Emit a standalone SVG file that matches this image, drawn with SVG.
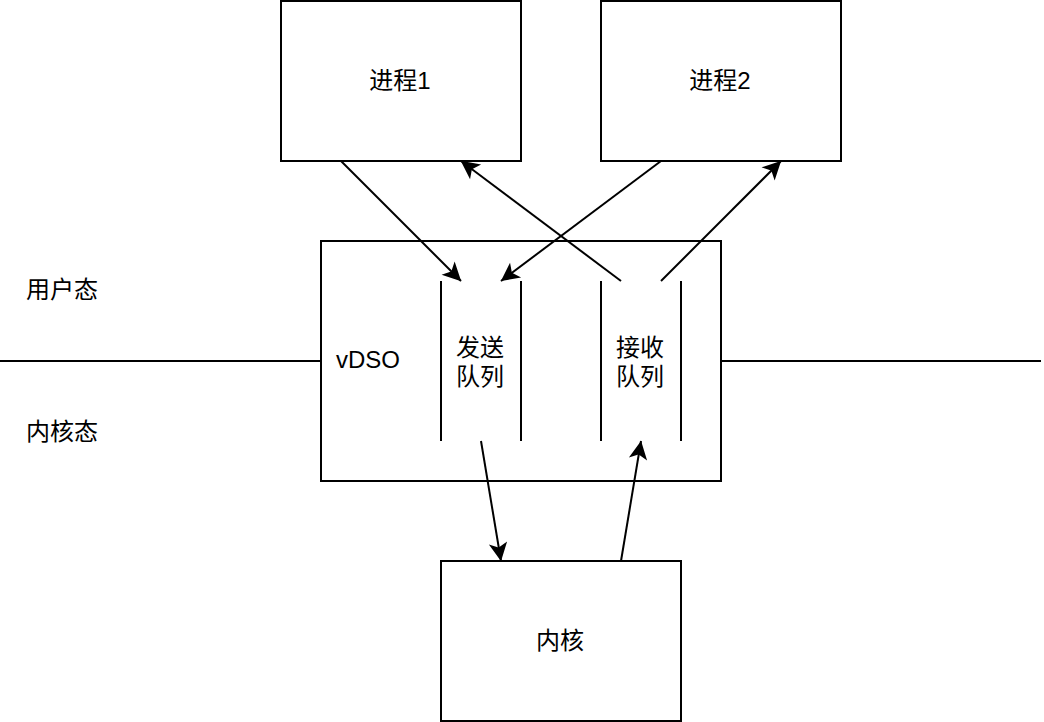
<svg xmlns="http://www.w3.org/2000/svg" width="1044" height="722" viewBox="0 0 1044 722">
  <style>
    .box { fill: #ffffff; stroke: #000000; stroke-width: 2; }
    .ln { fill: none; stroke: #000000; stroke-width: 2; }
    .arr { fill: none; stroke: #000000; stroke-width: 2; marker-end: url(#ah); }
    text { font-family: "Liberation Sans", "Noto Sans CJK SC", sans-serif; font-size: 24px; fill: #000000; }
    .c { text-anchor: middle; }
  </style>
  <defs>
    <marker id="ah" markerUnits="userSpaceOnUse" viewBox="-20 -10 22 20" refX="0" refY="0" markerWidth="22" markerHeight="20" orient="auto" overflow="visible">
      <path d="M-2,0 L-16,-7 L-12.5,0 L-16,7 Z" fill="#000000" stroke="#000000" stroke-width="2"/>
    </marker>
  </defs>
  <rect width="1044" height="722" fill="#ffffff"/>

  <g id="divider">
    <line class="ln" x1="0" y1="361" x2="321" y2="361"/>
    <line class="ln" x1="721" y1="361" x2="1041" y2="361"/>
  </g>

  <g id="label-user">
    <text class="c" x="62" y="298">用户态</text>
  </g>
  <g id="label-kernel">
    <text class="c" x="62" y="440">内核态</text>
  </g>

  <g id="proc1">
    <rect class="box" x="281" y="1" width="240" height="160"/>
    <text class="c" x="400" y="89">进程1</text>
  </g>
  <g id="proc2">
    <rect class="box" x="601" y="1" width="240" height="160"/>
    <text class="c" x="720" y="89">进程2</text>
  </g>

  <g id="vdso">
    <rect class="box" x="321" y="241" width="400" height="240"/>
    <text x="336" y="368">vDSO</text>
  </g>
  <g id="send-queue">
    <line class="ln" x1="441" y1="281" x2="441" y2="441"/>
    <line class="ln" x1="521" y1="281" x2="521" y2="441"/>
    <text class="c" x="480" y="356">发送</text>
    <text class="c" x="480" y="385">队列</text>
  </g>
  <g id="recv-queue">
    <line class="ln" x1="601" y1="281" x2="601" y2="441"/>
    <line class="ln" x1="681" y1="281" x2="681" y2="441"/>
    <text class="c" x="640" y="356">接收</text>
    <text class="c" x="640" y="385">队列</text>
  </g>

  <g id="kernel">
    <rect class="box" x="441" y="561" width="240" height="160"/>
    <text class="c" x="560" y="649">内核</text>
  </g>

  <g id="connectors">
    <line class="arr" x1="341" y1="161" x2="461" y2="281"/>
    <line class="arr" x1="661" y1="161" x2="501" y2="281"/>
    <line class="arr" x1="621" y1="281" x2="461" y2="161"/>
    <line class="arr" x1="661" y1="281" x2="781" y2="161"/>
    <line class="arr" x1="481" y1="441" x2="501" y2="561"/>
    <line class="arr" x1="621" y1="561" x2="641" y2="441"/>
  </g>
</svg>
